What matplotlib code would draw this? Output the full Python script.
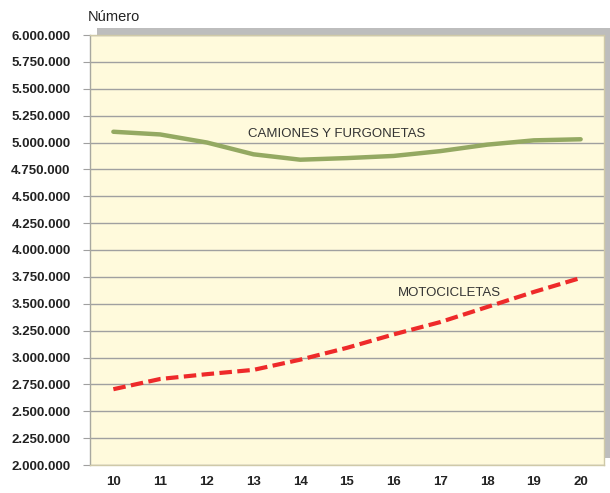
import matplotlib
matplotlib.use("Agg")
import matplotlib.pyplot as plt
from matplotlib import font_manager
from matplotlib.patches import Rectangle
from matplotlib.ticker import FuncFormatter

# data
years = [10, 11, 12, 13, 14, 15, 16, 17, 18, 19, 20]
camiones = [5100000, 5075000, 5000000, 4890000, 4840000, 4855000,
            4875000, 4920000, 4980000, 5020000, 5030000]
motos = [2705000, 2800000, 2845000, 2885000, 2980000, 3090000,
         3215000, 3330000, 3470000, 3610000, 3740000]
y_ticks = list(range(2000000, 6000001, 250000))

plt.rcParams['font.family'] = ['Liberation Sans', 'DejaVu Sans']

# condensed bold face for the tick labels, if there is one
names = {f.name for f in font_manager.fontManager.ttflist}
tick_font = 'Liberation Sans Narrow' if 'Liberation Sans Narrow' in names else 'Liberation Sans'
tick_size = 10.5 if tick_font == 'Liberation Sans Narrow' else 9.5

fig = plt.figure(figsize=(6.1, 4.93), dpi=100)
W, H = 610, 493
x0, x1, y0, y1 = 90, 604, 35, 465
pos = [x0 / W, (H - y1) / H, (x1 - x0) / W, (y1 - y0) / H]

# gray drop shadow behind the plot area
shadow = Rectangle((pos[0] + 7 / W, pos[1] + 7 / H), pos[2], pos[3],
                   transform=fig.transFigure, facecolor='#bdbdbd',
                   edgecolor='none', zorder=0)
fig.patches.append(shadow)

ax = fig.add_axes(pos, zorder=1)
ax.set_facecolor('#fffadc')

ax.plot(years, camiones, color='#94a962', lw=3.2, solid_capstyle='round',
        zorder=3)
ax.plot(years, motos, color='#ee2a2a', lw=3.0, dashes=(3, 1.3), zorder=3)

ax.text(14.77, 5080000, 'CAMIONES Y FURGONETAS', fontsize=9.5,
        color='#333333', ha='center', va='center')
ax.text(17.2, 3600000, 'MOTOCICLETAS', fontsize=9.5, color='#333333',
        ha='center', va='center')

ax.set_xlim(9.5, 20.5)
ax.set_ylim(2000000, 6000000)
ax.set_xticks(years)
ax.set_yticks(y_ticks)
ax.yaxis.set_major_formatter(
    FuncFormatter(lambda v, p: f"{int(v):,}".replace(',', '.')))

ax.grid(axis='y', color='#a0a0a0', lw=1.0)
ax.set_axisbelow(True)
ax.tick_params(axis='y', length=5, width=0.8, color='#a0a0a0', pad=9,
               labelcolor='#222222')
ax.tick_params(axis='x', length=0, pad=8, labelcolor='#222222')
for lab in ax.get_xticklabels() + ax.get_yticklabels():
    lab.set_fontweight('bold')
    lab.set_family(tick_font)
    lab.set_fontsize(tick_size)

for s in ax.spines.values():
    s.set_color('#cfc9a8')
    s.set_linewidth(1.0)
ax.spines['left'].set_color('#a8a8a0')

fig.text(88 / W, 1 - 17 / H, 'Número', fontsize=10.5, color='#222222',
         ha='left', va='center')

fig.savefig('out.png', dpi=100, facecolor='white')
